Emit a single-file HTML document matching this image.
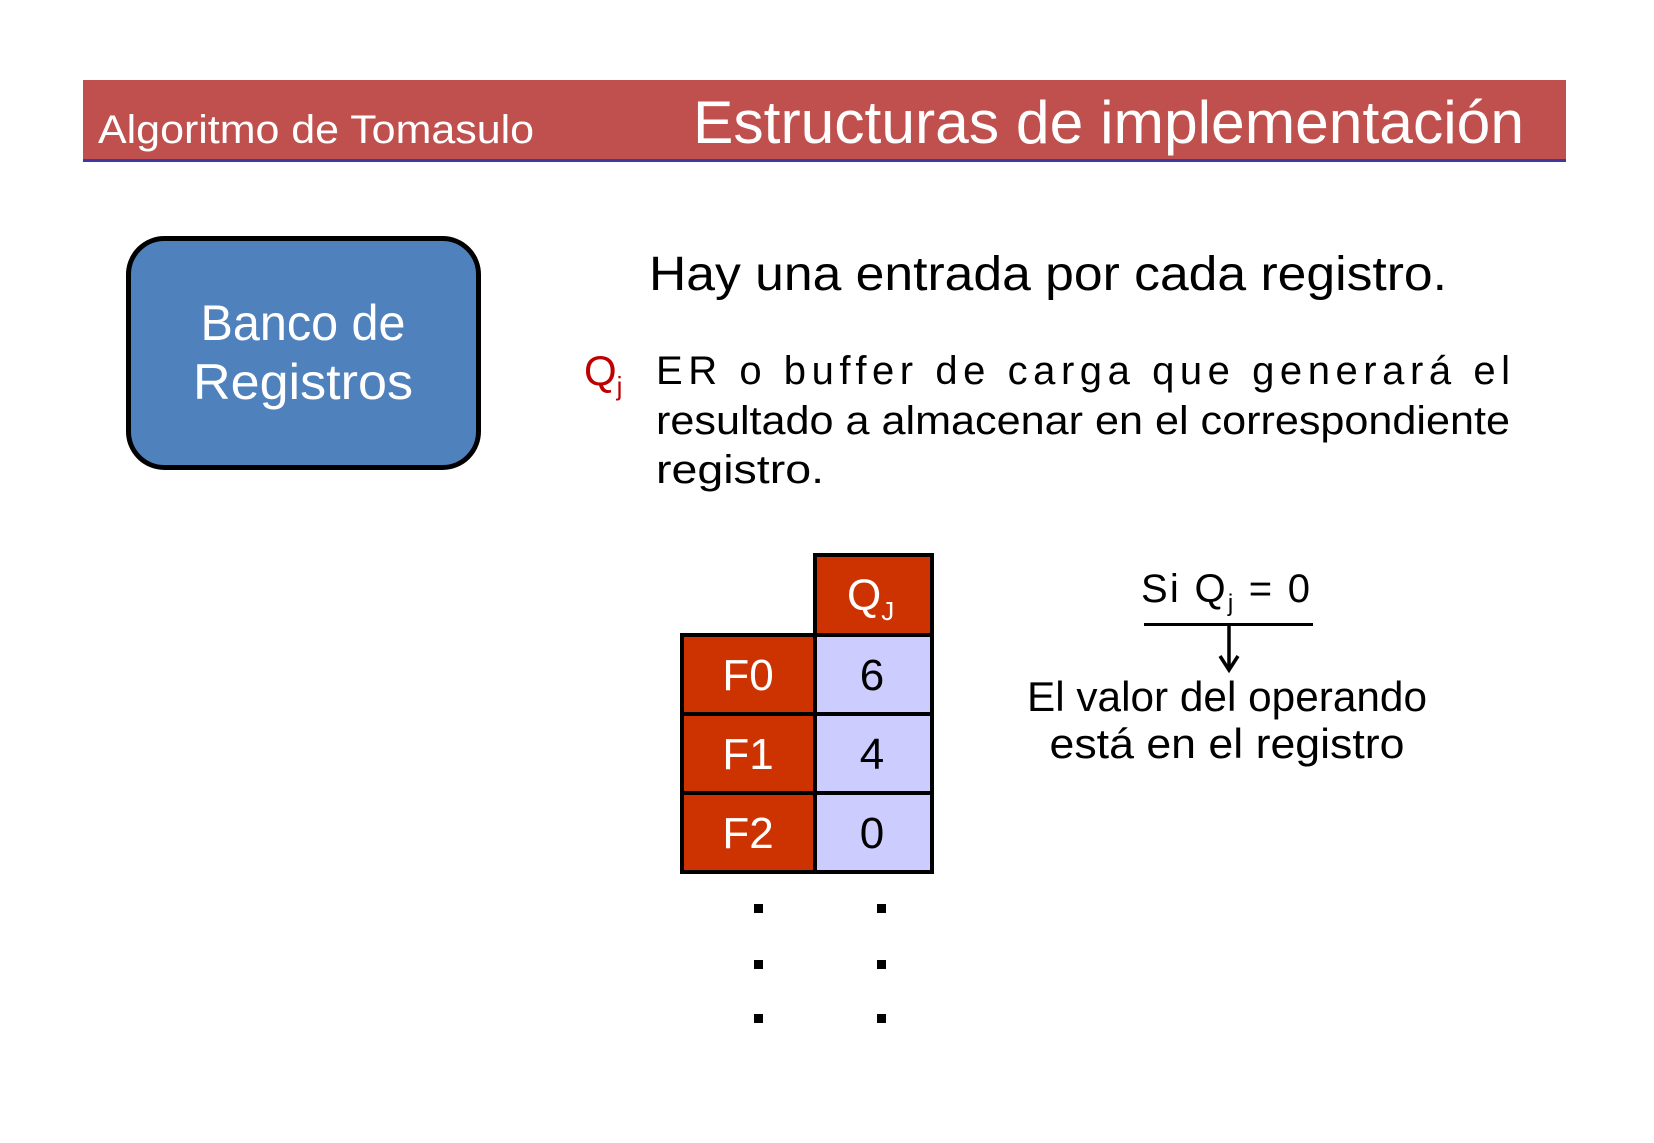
<!DOCTYPE html>
<html><head><meta charset="utf-8"><style>
html,body{margin:0;padding:0;background:#fff;}
svg{display:block;}
text{font-family:"Liberation Sans","DejaVu Sans",sans-serif;}
</style></head><body>
<svg width="1654" height="1143" viewBox="0 0 1654 1143" xmlns="http://www.w3.org/2000/svg">
<rect x="83" y="80" width="1483" height="80" fill="#c0504d"/>
<rect x="83" y="159" width="1483" height="3" fill="#3a3aa0"/>
<text x="98" y="143" font-size="40" fill="#fff" textLength="436" lengthAdjust="spacingAndGlyphs">Algoritmo de Tomasulo</text>
<text x="693" y="143" font-size="60" fill="#fff" textLength="831" lengthAdjust="spacingAndGlyphs">Estructuras de implementación</text>

<rect x="128.5" y="238.5" width="350" height="229" rx="36" fill="#4f81bd" stroke="#000" stroke-width="5"/>
<text x="303" y="340" font-size="50" fill="#fff" text-anchor="middle" textLength="205" lengthAdjust="spacingAndGlyphs">Banco de</text>
<text x="303" y="399" font-size="50" fill="#fff" text-anchor="middle" textLength="220" lengthAdjust="spacingAndGlyphs">Registros</text>

<text x="649" y="290" font-size="48" fill="#000" textLength="798" lengthAdjust="spacingAndGlyphs">Hay una entrada por cada registro.</text>
<text x="584" y="385" font-size="42" fill="#c00000">Q<tspan font-size="26" dy="10">j</tspan></text>
<text x="656" y="384" font-size="40" fill="#000" textLength="854" lengthAdjust="spacing">ER o buffer de carga que generará el</text>
<text x="656" y="434" font-size="40" fill="#000" textLength="854" lengthAdjust="spacingAndGlyphs">resultado a almacenar en el correspondiente</text>
<text x="656" y="483" font-size="40" fill="#000" textLength="168" lengthAdjust="spacingAndGlyphs">registro.</text>

<g stroke="#000" stroke-width="4">
<rect x="815" y="555" width="117" height="80" fill="#cc3300"/>
<rect x="682" y="635" width="133" height="79" fill="#cc3300"/>
<rect x="815" y="635" width="117" height="79" fill="#ccccff"/>
<rect x="682" y="714" width="133" height="79" fill="#cc3300"/>
<rect x="815" y="714" width="117" height="79" fill="#ccccff"/>
<rect x="682" y="793" width="133" height="79" fill="#cc3300"/>
<rect x="815" y="793" width="117" height="79" fill="#ccccff"/>
</g>
<text x="847" y="610" font-size="44" fill="#fff">Q<tspan font-size="26" dy="10">J</tspan></text>
<g font-size="44" text-anchor="middle">
<text x="748" y="690" fill="#fff">F0</text>
<text x="872" y="690" fill="#000">6</text>
<text x="748" y="769" fill="#fff">F1</text>
<text x="872" y="769" fill="#000">4</text>
<text x="748" y="848" fill="#fff">F2</text>
<text x="872" y="848" fill="#000">0</text>
</g>
<g fill="#000">
<rect x="754" y="904" width="9" height="9"/><rect x="877" y="904" width="9" height="9"/>
<rect x="754" y="960" width="9" height="9"/><rect x="877" y="960" width="9" height="9"/>
<rect x="754" y="1014" width="9" height="9"/><rect x="877" y="1014" width="9" height="9"/>
</g>

<text x="1141" y="602" font-size="40" fill="#000" textLength="169" lengthAdjust="spacing">Si Q<tspan font-size="24" dy="9">j</tspan><tspan dy="-9"> = 0</tspan></text>
<rect x="1144" y="623" width="169" height="3" fill="#000"/>
<line x1="1229" y1="625" x2="1229" y2="668" stroke="#000" stroke-width="3.5"/>
<path d="M1220 656 L1229 670 L1238 656" fill="none" stroke="#000" stroke-width="3.5"/>
<text x="1227" y="711" font-size="42" fill="#000" text-anchor="middle" textLength="400" lengthAdjust="spacingAndGlyphs">El valor del operando</text>
<text x="1227" y="758" font-size="42" fill="#000" text-anchor="middle" textLength="355" lengthAdjust="spacingAndGlyphs">está en el registro</text>
</svg>
</body></html>
